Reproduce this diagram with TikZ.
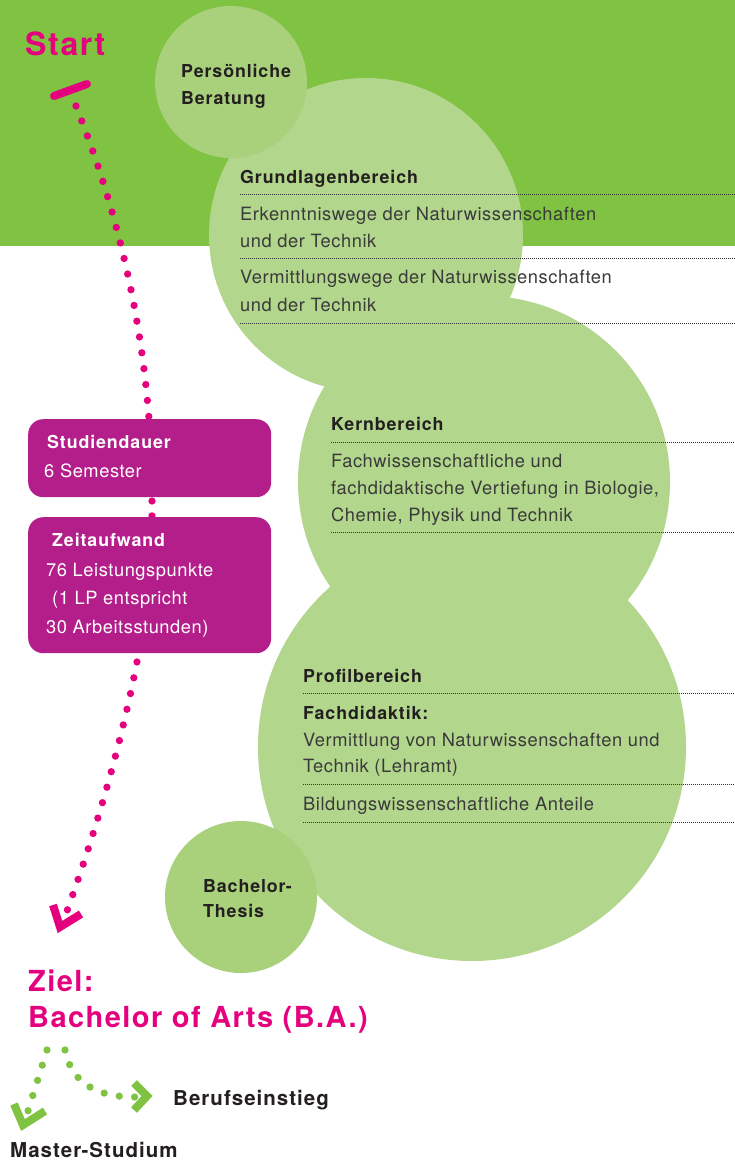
\documentclass[tikz,border=0pt]{standalone}
\usepackage{fontspec}
\setmainfont{TeX Gyre Heros}
\newfontfamily\bodyf[LetterSpace=3]{TeX Gyre Heros}
\newfontfamily\headf[LetterSpace=5]{TeX Gyre Heros}
\definecolor{bandc}{HTML}{80C241}
\definecolor{lightc}{HTML}{B2D68C}
\definecolor{midc}{HTML}{A9D07B}
\definecolor{magc}{HTML}{E5007E}
\definecolor{boxc}{HTML}{B31E8A}
\definecolor{headc}{HTML}{231F20}
\definecolor{bodyc}{HTML}{3A3A3A}
\definecolor{sepc}{HTML}{333333}
\tikzset{
  bubble/.style={circle, fill=lightc, inner sep=0pt},
  smallbubble/.style={circle, fill=midc, inner sep=0pt, minimum size=152pt},
  head/.style={anchor=base west, inner sep=0pt, text=headc, font=\headf\bfseries\fontsize{17.8}{20}\selectfont},
  body/.style={anchor=base west, inner sep=0pt, text=bodyc, font=\bodyf\fontsize{18.3}{22}\selectfont},
  boxhead/.style={head, text=white},
  boxbody/.style={body, text=white},
  sep/.style={draw=sepc, line width=0.9pt, dash pattern=on 1pt off 1pt},
  infobox/.style={fill=boxc, rounded corners=15pt, anchor=north west, inner sep=0pt, minimum width=243pt},
  pdots/.style={draw=magc, line width=7.3pt, line cap=round, dash pattern=on 0pt off #1},
  gdots/.style={draw=bandc, line width=7.3pt, line cap=round, dash pattern=on 0pt off #1},
  chevron/.style={line width=8pt, miter limit=10},
  bigtext/.style={anchor=base west, inner sep=0pt, text=magc, font=\headf\bfseries\fontsize{29}{32}\selectfont},
  goaltext/.style={anchor=base west, inner sep=0pt, text=headc, font=\headf\bfseries\fontsize{20.5}{24}\selectfont}
}
\begin{document}
\begin{tikzpicture}[x=1pt,y=-1pt]
\useasboundingbox (0,0) rectangle (735,1168);
\fill[white] (0,0) rectangle (735,1168);
\fill[bandc] (0,0) rectangle (735,246);

% bubbles
\node[bubble, minimum size=314pt] (grund) at (366,235) {};
\node[bubble, minimum size=372pt] (kern) at (484,482) {};
\node[bubble, minimum size=428pt] (profil) at (472,747) {};
\node[smallbubble] (beratung) at (231,82) {};
\node[smallbubble] (thesis) at (241,897) {};

% separators
\draw[sep] (240,194) -- (735,194);
\draw[sep] (240,258) -- (735,258);
\draw[sep] (240,323) -- (735,323);
\draw[sep] (331,442) -- (735,442);
\draw[sep] (331,532) -- (735,532);
\draw[sep] (303,693) -- (735,693);
\draw[sep] (303,784) -- (735,784);
\draw[sep] (303,822) -- (735,822);

% circle texts
\node[head] (ber1) at (181,77) {Persönliche};
\node[head] (ber2) at (181,104) {Beratung};
\node[head] (g0) at (240,183) {Grundlagenbereich};
\node[body] (g1) at (240,220) {Erkenntniswege der Naturwissenschaften};
\node[body] (g2) at (240,247) {und der Technik};
\node[body] (g3) at (240,283) {Vermittlungswege der Naturwissenschaften};
\node[body] (g4) at (240,311) {und der Technik};
\node[head] (k0) at (331,430) {Kernbereich};
\node[body] (k1) at (331,467) {Fachwissenschaftliche und};
\node[body] (k2) at (331,494) {fachdidaktische Vertiefung in Biologie,};
\node[body] (k3) at (331,521) {Chemie, Physik und Technik};
\node[head] (p0) at (303,682) {Profilbereich};
\node[head] (p1) at (303,719) {Fachdidaktik:};
\node[body] (p2) at (303,746) {Vermittlung von Naturwissenschaften und};
\node[body] (p3) at (303,772) {Technik (Lehramt)};
\node[body] (p4) at (303,810) {Bildungswissenschaftliche Anteile};
\node[head] (t1) at (203,892) {Bachelor-};
\node[head] (t2) at (203,917) {Thesis};

% magenta path
\coordinate (bar1) at (54,96);
\coordinate (bar2) at (87,84);
\draw[magc, line width=8pt, line cap=round] (bar1) -- (bar2);
\coordinate (pA) at (76,106);
\coordinate (pB) at (149,419);
\draw[pdots=16pt] (pA) .. controls (117,209) and (141,314) .. (pB);
\coordinate (pC) at (152,501);
\coordinate (pD) at (152,516);
\draw[pdots=14.9pt] (pC) -- (pD);
\coordinate (pE) at (137,662);
\coordinate (pF) at (67,911);
\draw[pdots=16.1pt] (pE) .. controls (122,739) and (99,822) .. (pF);
\coordinate (mc1) at (53,905);
\coordinate (mc2) at (60,927);
\coordinate (mc3) at (81,914);
\draw[magc, chevron] (mc1) -- (mc2) -- (mc3);

% info boxes
\node[infobox, minimum height=78pt] (dauer) at (28,419) {};
\node[infobox, minimum height=136pt] (zeit) at (28,517) {};
\node[boxhead] (d1) at (47,448) {Studiendauer};
\node[boxbody] (d2) at (44,477) {6 Semester};
\node[boxhead] (z1) at (52,546) {Zeitaufwand};
\node[boxbody] (z2) at (46,576) {76 Leistungspunkte};
\node[boxbody] (z3) at (52,604) {(1 LP entspricht};
\node[boxbody] (z4) at (46,633) {30 Arbeitsstunden)};

% start and goal
\node[bigtext, font=\headf\bfseries\fontsize{32}{36}\selectfont] (start) at (25,55) {Start};
\node[bigtext] (ziel) at (28,991) {Ziel:};
\node[bigtext] (ba) at (28,1027) {Bachelor of Arts (B.A.)};

% green branches
\coordinate (gA) at (47,1050);
\coordinate (gB) at (28,1111);
\draw[gdots=15.9pt] (gA) -- (gB);
\coordinate (gC) at (65,1050);
\coordinate (gD) at (135,1097);
\draw[gdots=15.4pt] (gC) .. controls (71,1081) and (94,1097) .. (gD);
\coordinate (lc1) at (14,1104);
\coordinate (lc2) at (23,1125);
\coordinate (lc3) at (45,1111);
\draw[bandc, chevron] (lc1) -- (lc2) -- (lc3);
\coordinate (rc1) at (134,1083);
\coordinate (rc2) at (147,1096);
\coordinate (rc3) at (134,1110);
\draw[bandc, chevron] (rc1) -- (rc2) -- (rc3);
\node[goaltext] (beruf) at (173,1105) {Berufseinstieg};
\node[goaltext] (master) at (10,1157) {Master-Studium};
\end{tikzpicture}
\end{document}
